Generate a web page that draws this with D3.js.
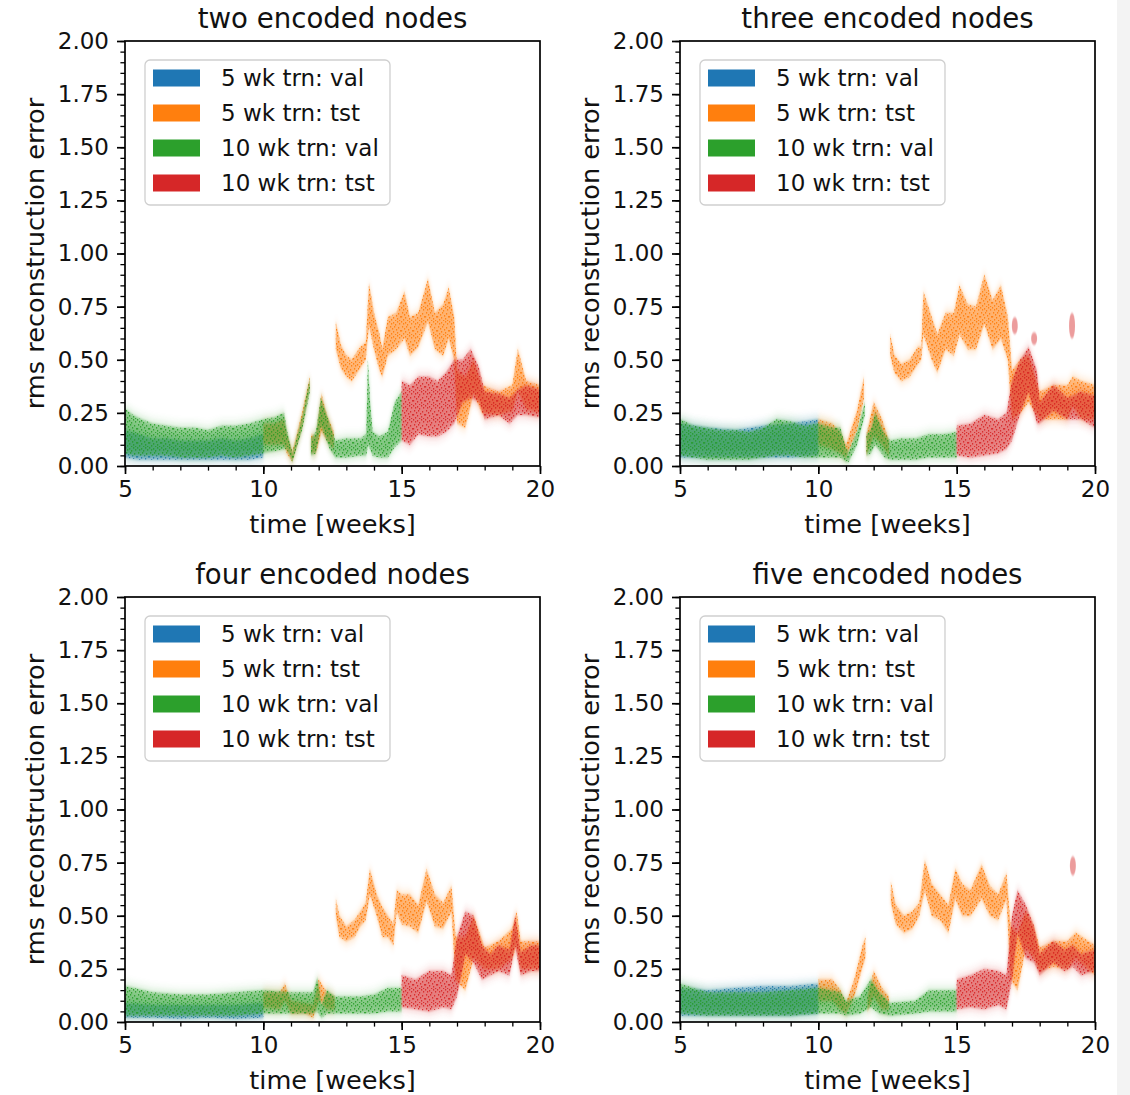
<!DOCTYPE html>
<html>
<head>
<meta charset="utf-8">
<script src="https://cdn.jsdelivr.net/npm/d3@7"></script>
<style>
  html, body { margin: 0; padding: 0; background: #fff; }
  svg { display: block; font-family: "DejaVu Sans", sans-serif; }
</style>
</head>
<body>
<svg id="chart" width="1130" height="1095"></svg>
<script>
// ---- labels and ticks ----
const panelTitles = ["two encoded nodes", "three encoded nodes", "four encoded nodes", "five encoded nodes"];
const seriesLabels = ["5 wk trn: val", "5 wk trn: tst", "10 wk trn: val", "10 wk trn: tst"];
const seriesColors = ["#1f77b4", "#ff7f0e", "#2ca02c", "#d62728"];
const xTicks = [5, 10, 15, 20];
const yTicks = [0, 0.25, 0.5, 0.75, 1.0, 1.25, 1.5, 1.75, 2.0];
const xLabel = "time [weeks]";
const yLabel = "rms reconstruction error";

// ---- error bands: [time in weeks, lower edge, upper edge]; null marks a break ----
const twoBlue = [[5,0.04,0.17],[5.5,0.03,0.15],[6,0.03,0.13],[6.5,0.03,0.13],[7,0.03,0.12],[7.5,0.03,0.12],[8,0.03,0.12],[8.5,0.03,0.13],[9,0.03,0.12],[9.5,0.03,0.13],[10,0.04,0.15]];
const twoOrange = [[10.0,0.1,0.2],[10.4,0.1,0.2],[10.75,0.1,0.22],[10.85,0.06,0.15],[11.05,0.02,0.07],[11.4,0.18,0.25],[11.68,0.37,0.42],null,[11.73,0.06,0.15],[11.9,0.06,0.14],[12.1,0.16,0.34],[12.3,0.12,0.24],[12.55,0.08,0.16],null,[12.62,0.55,0.68],[12.8,0.46,0.57],[13.0,0.42,0.52],[13.2,0.4,0.5],[13.5,0.46,0.56],[13.7,0.5,0.58],[13.82,0.66,0.86],[14.0,0.55,0.72],[14.2,0.45,0.62],[14.3,0.42,0.55],[14.5,0.52,0.7],[14.8,0.55,0.72],[15.1,0.6,0.82],[15.3,0.52,0.7],[15.6,0.56,0.72],[15.95,0.68,0.88],[16.2,0.55,0.72],[16.5,0.52,0.76],[16.7,0.6,0.84],[16.9,0.5,0.7],[17.0,0.2,0.45],[17.3,0.18,0.42],[17.6,0.34,0.5],[17.9,0.25,0.38],[18.5,0.24,0.35],[19.0,0.26,0.38],[19.2,0.35,0.55],[19.5,0.27,0.4],[20.0,0.25,0.38]];
const twoGreen = [[5.0,0.06,0.27],[5.3,0.05,0.24],[5.6,0.05,0.22],[6.0,0.05,0.2],[6.5,0.05,0.19],[7.0,0.04,0.18],[7.5,0.04,0.18],[8.0,0.04,0.17],[8.5,0.05,0.19],[9.0,0.04,0.19],[9.5,0.05,0.2],[10.0,0.06,0.22],[10.4,0.07,0.23],[10.75,0.08,0.25],[10.85,0.08,0.17],[11.05,0.02,0.06],[11.4,0.17,0.23],[11.68,0.35,0.41],null,[11.72,0.05,0.13],[11.9,0.06,0.16],[12.08,0.19,0.32],[12.4,0.08,0.2],[12.6,0.04,0.12],[13.0,0.04,0.13],[13.5,0.05,0.13],[13.72,0.05,0.15],[13.78,0.1,0.5],[13.86,0.08,0.3],[13.95,0.05,0.16],[14.2,0.04,0.14],[14.5,0.04,0.16],[14.75,0.09,0.3],[15.0,0.12,0.35]];
const twoRed = [[15.0,0.12,0.4],[15.3,0.1,0.38],[15.6,0.15,0.42],[16.0,0.14,0.42],[16.3,0.14,0.4],[16.6,0.16,0.44],[16.9,0.2,0.5],[17.2,0.3,0.5],[17.5,0.32,0.55],[17.8,0.3,0.46],[18.0,0.22,0.35],[18.5,0.24,0.34],[18.9,0.2,0.32],[19.2,0.24,0.36],[19.5,0.24,0.38],[20.0,0.23,0.36]];
const twoRedSpots = [];

const threeBlue = [[5,0.04,0.2],[6,0.04,0.18],[7,0.04,0.17],[8,0.04,0.19],[9,0.04,0.2],[10,0.05,0.22]];
const threeOrange = [[10.0,0.1,0.22],[10.5,0.08,0.2],[10.8,0.06,0.16],[11.0,0.04,0.1],[11.4,0.17,0.26],[11.65,0.32,0.42],null,[11.74,0.05,0.15],[12.0,0.14,0.3],[12.3,0.1,0.22],[12.55,0.05,0.12],null,[12.6,0.52,0.62],[12.75,0.44,0.52],[13.0,0.4,0.48],[13.3,0.42,0.5],[13.6,0.48,0.56],[13.72,0.5,0.56],[13.8,0.62,0.82],[14.1,0.5,0.7],[14.3,0.44,0.62],[14.6,0.55,0.72],[14.9,0.52,0.72],[15.1,0.62,0.85],[15.4,0.55,0.76],[15.7,0.55,0.75],[16.0,0.67,0.9],[16.3,0.55,0.78],[16.6,0.6,0.85],[16.85,0.5,0.7],[17.0,0.22,0.45],[17.3,0.25,0.5],[17.6,0.3,0.52],[18.0,0.22,0.35],[18.5,0.22,0.38],[19.0,0.22,0.38],[19.2,0.28,0.42],[19.5,0.22,0.4],[20.0,0.22,0.38]];
const threeGreen = [[5.0,0.05,0.22],[5.5,0.04,0.19],[6.0,0.03,0.18],[6.5,0.03,0.17],[7.0,0.03,0.17],[7.5,0.03,0.16],[8.0,0.04,0.18],[8.5,0.05,0.22],[9.0,0.05,0.21],[9.5,0.04,0.19],[10.0,0.04,0.2],[10.5,0.04,0.18],[10.8,0.04,0.18],[11.0,0.02,0.08],[11.1,0.02,0.07],[11.4,0.1,0.16],[11.68,0.24,0.3],null,[11.74,0.05,0.15],[11.9,0.06,0.17],[12.05,0.1,0.25],[12.4,0.04,0.15],[12.6,0.03,0.12],[13.0,0.03,0.13],[13.5,0.03,0.13],[14.0,0.04,0.15],[14.5,0.04,0.15],[15.0,0.04,0.16]];
const threeRed = [[15.0,0.05,0.19],[15.5,0.04,0.2],[16.0,0.05,0.24],[16.5,0.06,0.22],[16.8,0.08,0.25],[17.0,0.12,0.4],[17.3,0.25,0.5],[17.6,0.35,0.56],[17.9,0.2,0.45],[18.0,0.2,0.3],[18.5,0.26,0.38],[19.0,0.22,0.32],[19.5,0.22,0.35],[20.0,0.18,0.33]];
const threeRedSpots = [[17.1,0.62,0.7],[17.8,0.57,0.63],[19.17,0.6,0.72]];

const fourBlue = [[5,0.02,0.09],[6,0.02,0.08],[7,0.015,0.08],[8,0.02,0.08],[9,0.015,0.08],[10,0.02,0.09]];
const fourOrange = [[10.0,0.07,0.14],[10.6,0.06,0.14],[10.78,0.1,0.18],[11.0,0.04,0.1],[11.5,0.04,0.09],[11.8,0.02,0.08],[12.0,0.1,0.2],[12.3,0.06,0.14],[12.58,0.06,0.12],null,[12.62,0.5,0.58],[12.75,0.4,0.5],[13.0,0.38,0.45],[13.3,0.4,0.48],[13.5,0.45,0.52],[13.7,0.48,0.56],[13.85,0.6,0.72],[14.1,0.5,0.6],[14.3,0.4,0.54],[14.5,0.4,0.5],[14.7,0.36,0.46],[14.82,0.52,0.62],[15.0,0.46,0.6],[15.3,0.45,0.6],[15.6,0.42,0.55],[15.9,0.57,0.72],[16.2,0.45,0.6],[16.5,0.44,0.56],[16.8,0.52,0.64],[16.95,0.2,0.4],[17.3,0.15,0.4],[17.6,0.3,0.5],[18.0,0.25,0.35],[18.5,0.25,0.38],[19.0,0.3,0.44],[19.15,0.36,0.52],[19.3,0.25,0.38],[20.0,0.25,0.38]];
const fourGreen = [[5.0,0.03,0.17],[6.0,0.03,0.14],[7.0,0.03,0.13],[8.0,0.03,0.13],[9.0,0.03,0.14],[10.0,0.04,0.15],[11.0,0.04,0.14],[11.8,0.04,0.14],[11.95,0.05,0.21],[12.1,0.02,0.08],[12.3,0.04,0.15],[12.6,0.04,0.12],[13.5,0.04,0.12],[14.0,0.04,0.13],[14.5,0.05,0.16],[15.0,0.05,0.16]];
const fourRed = [[15.0,0.07,0.22],[15.5,0.06,0.2],[16.0,0.05,0.24],[16.5,0.07,0.24],[16.8,0.06,0.22],[17.0,0.12,0.4],[17.3,0.32,0.52],[17.6,0.28,0.5],[17.9,0.2,0.36],[18.2,0.22,0.32],[18.5,0.24,0.36],[18.9,0.22,0.34],[19.1,0.36,0.5],[19.3,0.22,0.33],[19.7,0.24,0.36],[20.0,0.24,0.36]];
const fourRedSpots = [];

const fiveBlue = [[5,0.03,0.16],[6,0.03,0.15],[7,0.03,0.16],[8,0.03,0.17],[9,0.03,0.17],[10,0.04,0.18]];
const fiveOrange = [[10.0,0.1,0.2],[10.5,0.1,0.2],[10.8,0.06,0.15],[11.0,0.04,0.09],[11.3,0.12,0.2],[11.6,0.26,0.36],[11.7,0.3,0.4],null,[11.78,0.05,0.12],[12.0,0.12,0.24],[12.3,0.06,0.16],[12.55,0.06,0.12],null,[12.62,0.56,0.66],[12.8,0.46,0.55],[13.1,0.42,0.5],[13.4,0.44,0.52],[13.65,0.5,0.56],[13.85,0.62,0.76],[14.1,0.5,0.65],[14.4,0.48,0.6],[14.7,0.42,0.55],[14.95,0.58,0.72],[15.2,0.5,0.65],[15.5,0.5,0.62],[15.9,0.58,0.74],[16.2,0.5,0.64],[16.5,0.48,0.6],[16.8,0.58,0.7],[16.95,0.2,0.45],[17.2,0.15,0.42],[17.5,0.35,0.52],[17.8,0.3,0.45],[18.0,0.24,0.35],[18.5,0.26,0.38],[19.0,0.25,0.38],[19.3,0.3,0.42],[20.0,0.22,0.36]];
const fiveGreen = [[5.0,0.04,0.18],[6.0,0.03,0.14],[7.0,0.03,0.14],[8.0,0.03,0.14],[9.0,0.03,0.15],[10.0,0.04,0.16],[10.8,0.04,0.14],[11.0,0.03,0.1],[11.5,0.04,0.12],[11.9,0.07,0.2],[12.2,0.04,0.14],[12.6,0.03,0.09],[13.5,0.04,0.1],[14.0,0.05,0.15],[15.0,0.05,0.15]];
const fiveRed = [[15.0,0.06,0.2],[15.5,0.07,0.22],[16.0,0.06,0.25],[16.5,0.08,0.24],[16.8,0.06,0.22],[17.0,0.2,0.5],[17.2,0.42,0.62],[17.5,0.3,0.55],[17.8,0.28,0.45],[18.0,0.22,0.32],[18.5,0.28,0.38],[18.9,0.24,0.34],[19.2,0.26,0.36],[19.5,0.22,0.32],[20.0,0.24,0.34]];
const fiveRedSpots = [[19.2,0.69,0.78]];

// bands in drawing order: 5wk val, 5wk tst, 10wk val, 10wk tst
const panelBands = [
  [twoBlue, twoOrange, twoGreen, twoRed],
  [threeBlue, threeOrange, threeGreen, threeRed],
  [fourBlue, fourOrange, fourGreen, fourRed],
  [fiveBlue, fiveOrange, fiveGreen, fiveRed]
];
const panelSpots = [twoRedSpots, threeRedSpots, fourRedSpots, fiveRedSpots];

// ---- layout ----
const W = 1130, H = 1095;
const plotW = 415, plotH = 425;
const origins = [[125, 41], [680, 41], [125, 597], [680, 597]];
const tickFont = 23, labelFont = 25.6, titleFont = 27.6;

const svg = d3.select("#chart");
svg.append("rect").attr("width", W).attr("height", H).attr("fill", "#fff");
// light strip along the right edge of the canvas
svg.append("rect").attr("x", 1117).attr("y", 0).attr("width", 13).attr("height", H).attr("fill", "#f3f3f3");

const defs = svg.append("defs");
// vertical haze: the point clouds scatter mostly up and down around each band
defs.append("filter").attr("id", "haze").attr("x", "-20%").attr("y", "-60%").attr("width", "140%").attr("height", "220%")
  .append("feGaussianBlur").attr("stdDeviation", "1.5 6");
defs.append("filter").attr("id", "soft").attr("x", "-10%").attr("y", "-10%").attr("width", "120%").attr("height", "120%")
  .append("feGaussianBlur").attr("stdDeviation", "0.6 1.2");

// stipple texture so that filled bands read as a cloud of points
const stipple = [[0,0],[4,1],[8,0],[2,2],[6,3],[10,2],[1,5],[5,5],[9,6],[3,7],[7,8],[0,9],[11,9],[4,10],[8,11],[2,12],[6,13],[10,13]];
seriesColors.forEach((c, i) => {
  const p = defs.append("pattern").attr("id", "stip" + i)
    .attr("patternUnits", "userSpaceOnUse").attr("width", 12).attr("height", 14);
  p.selectAll("rect").data(stipple).join("rect")
    .attr("x", d => d[0]).attr("y", d => d[1]).attr("width", 1.2).attr("height", 1.6)
    .attr("fill", c).attr("opacity", 0.9);
});

const x = d3.scaleLinear().domain([5, 20]).range([0, plotW]);
const y = d3.scaleLinear().domain([0, 2]).range([plotH, 0]);

const band = d3.area()
  .defined(d => d !== null)
  .x(d => x(d[0]))
  .y0(d => y(d[1]))
  .y1(d => y(d[2]))
  .curve(d3.curveLinear);

panelTitles.forEach((title, p) => {
  const [ox, oy] = origins[p];
  const g = svg.append("g").attr("transform", `translate(${ox},${oy})`);

  defs.append("clipPath").attr("id", "clip" + p)
    .append("rect").attr("width", plotW).attr("height", plotH);

  const plot = g.append("g").attr("clip-path", `url(#clip${p})`);

  panelBands[p].forEach((data, s) => {
    const col = seriesColors[s];
    plot.append("path").datum(data).attr("d", band)
      .attr("fill", col).attr("opacity", 0.34).attr("filter", "url(#haze)");
    plot.append("path").datum(data).attr("d", band)
      .attr("fill", col).attr("opacity", 0.38).attr("filter", "url(#soft)");
    plot.append("path").datum(data).attr("d", band)
      .attr("fill", `url(#stip${s})`);
  });

  const spots = plot.selectAll("g.spot").data(panelSpots[p]).join("g").attr("class", "spot");
  spots.append("ellipse")
    .attr("cx", d => x(d[0])).attr("rx", 3)
    .attr("cy", d => (y(d[1]) + y(d[2])) / 2).attr("ry", d => (y(d[1]) - y(d[2])) / 2)
    .attr("fill", seriesColors[3]).attr("opacity", 0.45).attr("filter", "url(#soft)");

  // minor ticks
  g.append("g").attr("transform", `translate(0,${plotH})`)
    .call(d3.axisBottom(x).tickValues(d3.range(5, 20.001, 1)).tickSize(4.6).tickFormat(""))
    .call(a => a.select(".domain").remove())
    .call(a => a.selectAll("line").attr("stroke", "#000").attr("stroke-width", 1.3));
  g.append("g")
    .call(d3.axisLeft(y).tickValues(d3.range(0, 2.0001, 0.05)).tickSize(4.6).tickFormat(""))
    .call(a => a.select(".domain").remove())
    .call(a => a.selectAll("line").attr("stroke", "#000").attr("stroke-width", 1.3));

  // major ticks + labels
  g.append("g").attr("transform", `translate(0,${plotH})`)
    .call(d3.axisBottom(x).tickValues(xTicks).tickSize(8).tickPadding(7).tickFormat(d3.format("d")))
    .call(a => a.select(".domain").remove())
    .call(a => a.selectAll("line").attr("stroke", "#000").attr("stroke-width", 1.7))
    .call(a => a.selectAll("text").attr("font-size", tickFont).attr("fill", "#111")
      .attr("font-family", "DejaVu Sans"));
  g.append("g")
    .call(d3.axisLeft(y).tickValues(yTicks).tickSize(8).tickPadding(8).tickFormat(d3.format(".2f")))
    .call(a => a.select(".domain").remove())
    .call(a => a.selectAll("line").attr("stroke", "#000").attr("stroke-width", 1.7))
    .call(a => a.selectAll("text").attr("font-size", tickFont).attr("fill", "#111")
      .attr("font-family", "DejaVu Sans"));

  // frame
  g.append("rect").attr("width", plotW).attr("height", plotH)
    .attr("fill", "none").attr("stroke", "#000").attr("stroke-width", 1.7);

  // title and axis labels
  g.append("text").attr("x", plotW / 2).attr("y", -13)
    .attr("text-anchor", "middle").attr("font-size", titleFont).attr("fill", "#111").text(title);
  g.append("text").attr("x", plotW / 2).attr("y", plotH + 67)
    .attr("text-anchor", "middle").attr("font-size", labelFont).attr("fill", "#111").text(xLabel);
  g.append("text")
    .attr("transform", `translate(${-81},${plotH / 2}) rotate(-90)`)
    .attr("text-anchor", "middle").attr("font-size", labelFont).attr("fill", "#111").text(yLabel);

  // legend
  const lg = g.append("g").attr("transform", "translate(20,19)");
  lg.append("rect").attr("width", 245).attr("height", 145).attr("rx", 5)
    .attr("fill", "#fff").attr("fill-opacity", 0.85).attr("stroke", "#cfcfcf").attr("stroke-width", 1.3);
  seriesLabels.forEach((lab, i) => {
    const cy = 18 + i * 35;
    lg.append("rect").attr("x", 8).attr("y", cy - 8.5).attr("width", 47).attr("height", 17)
      .attr("fill", seriesColors[i]);
    lg.append("text").attr("x", 76).attr("y", cy).attr("dy", "0.36em")
      .attr("font-size", tickFont).attr("fill", "#111").text(lab);
  });
});
</script>
</body>
</html>
